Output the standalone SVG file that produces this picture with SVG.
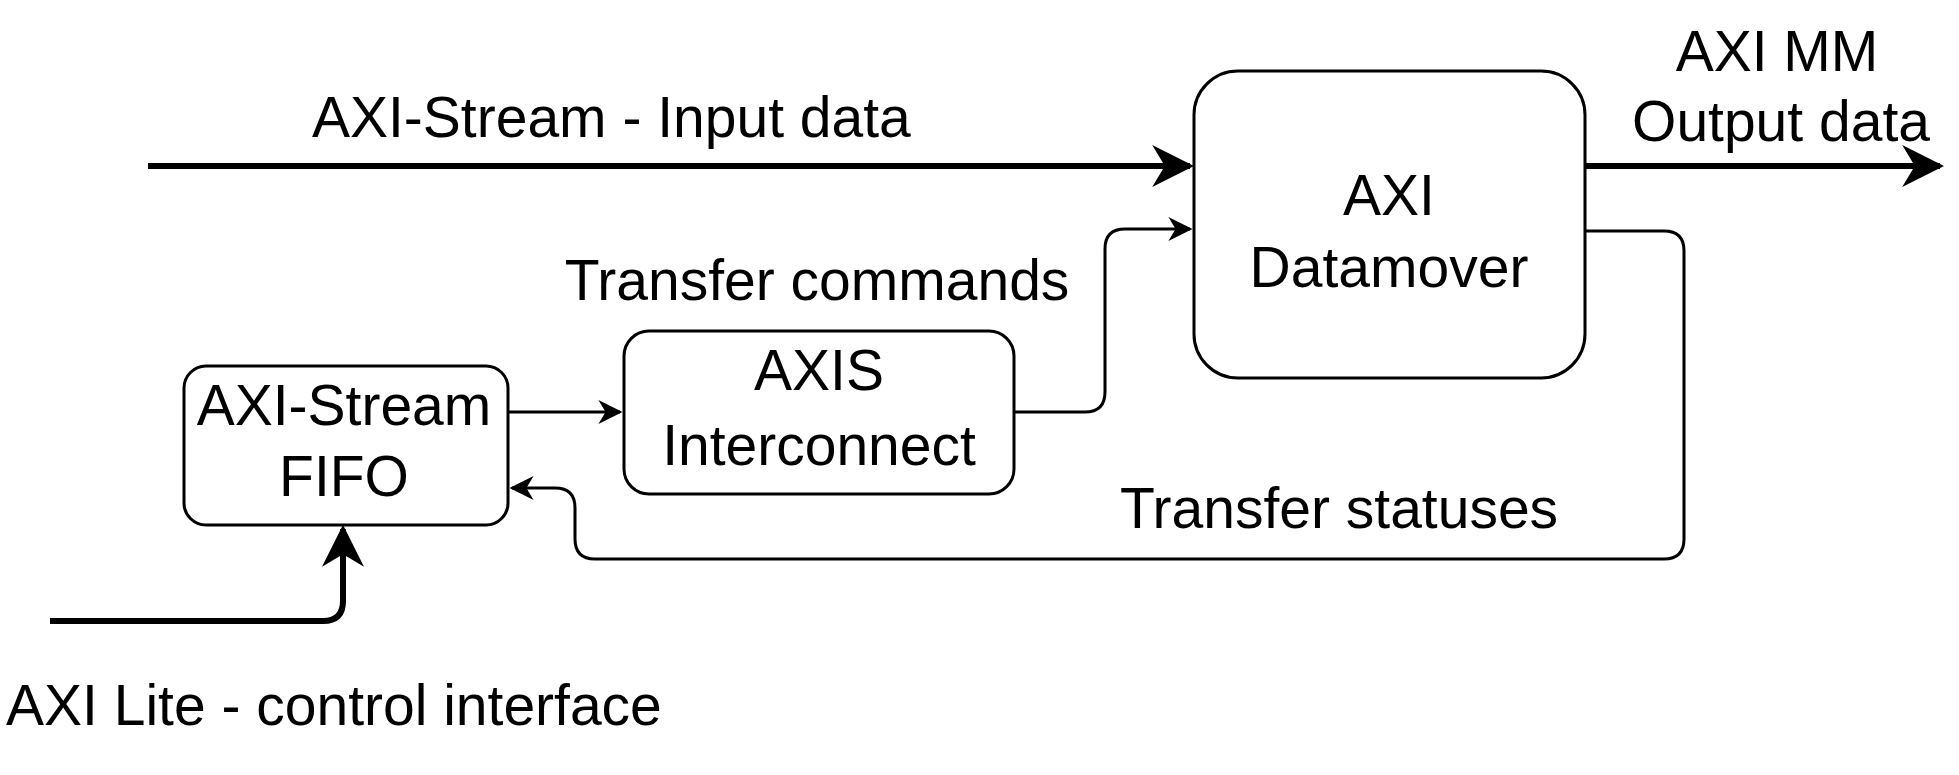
<svg xmlns="http://www.w3.org/2000/svg" width="1959" height="775" viewBox="0 0 1959 775">
<style>
text{font-family:"Liberation Sans",Arial,sans-serif;font-size:57px;fill:#000}
.box{fill:#fff;stroke:#000;stroke-width:3}
.thin{fill:none;stroke:#000;stroke-width:3}
.thick{fill:none;stroke:#000;stroke-width:6}
</style>
<defs>
<marker id="a" viewBox="0 0 10 10" refX="9" refY="5" markerWidth="24" markerHeight="24" markerUnits="userSpaceOnUse" orient="auto"><path d="M0,0 L10,5 L0,10 L3,5 Z" fill="#000"/></marker>
<marker id="A" viewBox="0 0 10 10" refX="9" refY="5" markerWidth="7" markerHeight="7" orient="auto"><path d="M0,0 L10,5 L0,10 L3,5 Z" fill="#000"/></marker>
</defs>
<rect width="1959" height="775" fill="#fff"/>
<g id="connectors">
<path class="thick" d="M148,166 H1190" marker-end="url(#A)"/>
<path class="thick" d="M1585,166 H1940" marker-end="url(#A)"/>
<path class="thin" d="M508,412 H620" marker-end="url(#a)"/>
<path class="thin" d="M1014,412 H1085 Q1105,412 1105,392 V249 Q1105,229 1125,229 H1190" marker-end="url(#a)"/>
<path class="thin" d="M1585,231 H1664 Q1684,231 1684,251 V539 Q1684,559 1664,559 H595 Q575,559 575,539 V508 Q575,488 555,488 H512" marker-end="url(#a)"/>
<path class="thick" d="M50,621 H323 Q343,621 343,601 V529" marker-end="url(#A)"/>
</g>
<g id="datamover"><rect class="box" x="1194" y="71" width="391" height="307" rx="44"/>
<text x="1389" y="215" text-anchor="middle">AXI</text><text x="1389" y="287" text-anchor="middle">Datamover</text></g>
<g id="interconnect"><rect class="box" x="624" y="331" width="390" height="163" rx="25"/>
<text x="819" y="390" text-anchor="middle">AXIS</text><text x="819" y="465" text-anchor="middle">Interconnect</text></g>
<g id="fifo"><rect class="box" x="184" y="366" width="324" height="159" rx="22"/>
<text x="344" y="425" text-anchor="middle">AXI-Stream</text><text x="344" y="496" text-anchor="middle">FIFO</text></g>
<g id="labels">
<text x="312" y="137">AXI-Stream - Input data</text>
<text x="1777" y="71" text-anchor="middle">AXI MM</text>
<text x="1781" y="141" text-anchor="middle">Output data</text>
<text x="817" y="300" text-anchor="middle">Transfer commands</text>
<text x="1339" y="528" text-anchor="middle">Transfer statuses</text>
<text x="6" y="725">AXI Lite - control interface</text>
</g>
</svg>
